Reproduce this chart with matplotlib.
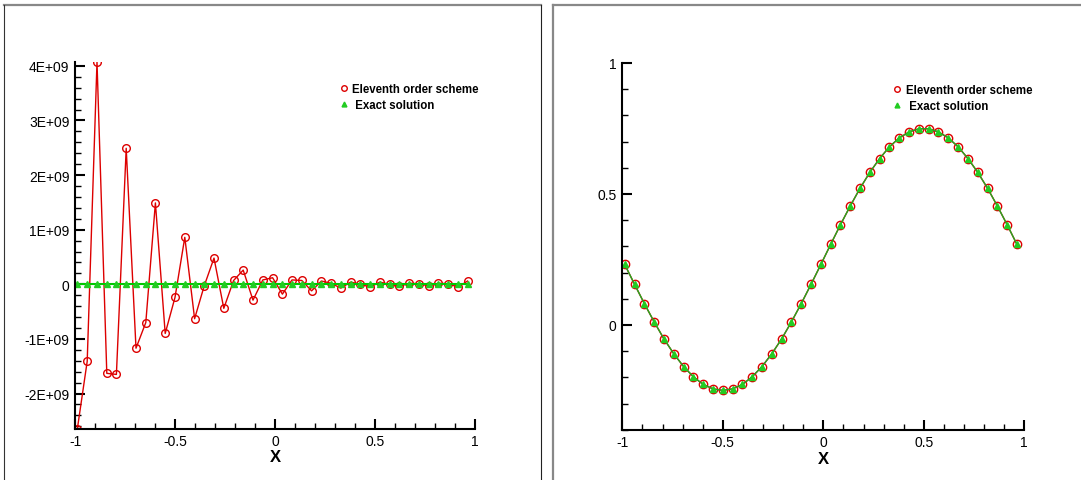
import matplotlib
matplotlib.use("Agg")
import matplotlib.pyplot as plt
from matplotlib.lines import Line2D
from matplotlib.ticker import MultipleLocator, FixedLocator, FuncFormatter

plt.rcParams['font.family'] = ['Liberation Sans', 'DejaVu Sans']

# ====== data ======
x_pts = [-0.988, -0.939, -0.890, -0.841, -0.793, -0.744, -0.695, -0.646, -0.598, -0.549,
         -0.500, -0.451, -0.402, -0.354, -0.305, -0.256, -0.207, -0.159, -0.110, -0.061,
         -0.012, 0.037, 0.085, 0.134, 0.183, 0.232, 0.280, 0.329, 0.378, 0.427,
         0.476, 0.524, 0.573, 0.622, 0.671, 0.720, 0.768, 0.817, 0.866, 0.915, 0.963]

# left panel: unstable scheme (values in units of 1E+09)
scheme_left = [-2.64, -1.41, 4.07, -1.63, -1.65, 2.49, -1.17, -0.70, 1.49, -0.90,
               -0.24, 0.86, -0.63, -0.03, 0.48, -0.44, 0.07, 0.26, -0.29, 0.08,
               0.12, -0.18, 0.08, 0.07, -0.12, 0.06, 0.02, -0.07, 0.04, 0.00,
               -0.05, 0.04, 0.00, -0.04, 0.02, 0.01, -0.03, 0.02, 0.01, -0.05, 0.06]

exact = [0.231, 0.155, 0.081, 0.011, -0.053, -0.110, -0.159, -0.198, -0.227, -0.244,
         -0.250, -0.244, -0.227, -0.198, -0.159, -0.110, -0.053, 0.011, 0.081, 0.155,
         0.231, 0.308, 0.382, 0.454, 0.522, 0.583, 0.635, 0.680, 0.714, 0.737,
         0.749, 0.749, 0.737, 0.714, 0.680, 0.635, 0.583, 0.522, 0.454, 0.382, 0.308]

# right panel: stable scheme sits on top of the exact solution
scheme_right = [0.231, 0.155, 0.081, 0.011, -0.053, -0.110, -0.159, -0.198, -0.227, -0.244,
                -0.250, -0.244, -0.227, -0.198, -0.159, -0.110, -0.053, 0.011, 0.081, 0.155,
                0.231, 0.308, 0.382, 0.454, 0.522, 0.583, 0.635, 0.680, 0.714, 0.737,
                0.749, 0.749, 0.737, 0.714, 0.680, 0.635, 0.583, 0.522, 0.454, 0.382, 0.308]

labels = ["Eleventh order scheme", " Exact solution"]

RED = "#dd0000"
GREEN = "#22cc22"
GREEN_LINE = "#00c800"

W, H = 1081, 481
fig = plt.figure(figsize=(W / 100, H / 100), dpi=100)


def frame(x0, x1, side_color, side_lw):
    # panel frame lines, like the plotting tool draws round each frame
    fig.add_artist(Line2D([x0 / W, x1 / W], [1 - 6 / H, 1 - 6 / H], color="#888888", lw=1.6))
    fig.add_artist(Line2D([x0 / W, x0 / W], [0, 1 - 6 / H], color=side_color, lw=side_lw))


frame(4, 541, "#333333", 0.8)
fig.add_artist(Line2D([541 / W, 541 / W], [0, 1 - 6 / H], color="#222222", lw=0.8))
frame(553, 1081, "#888888", 1.6)


def style_axes(ax):
    for s in ("top", "right"):
        ax.spines[s].set_visible(False)
    for s in ("left", "bottom"):
        ax.spines[s].set_linewidth(1.5)
    ax.tick_params(which="major", direction="in", length=7, width=1.5, labelsize=10, pad=4)
    ax.tick_params(which="minor", direction="in", length=4, width=1.0)
    ax.set_xlim(-1, 1)
    ax.xaxis.set_major_locator(MultipleLocator(0.5))
    ax.xaxis.set_minor_locator(MultipleLocator(0.1))
    ax.xaxis.set_major_formatter(FuncFormatter(lambda v, p: f"{v:g}"))
    ax.set_xlabel("X", fontsize=12, fontweight="bold", labelpad=1)


def add_legend(ax, anchor):
    handles = [
        Line2D([], [], ls="none", marker="o", ms=4, mfc="none", mec=RED, mew=1.0),
        Line2D([], [], ls="none", marker="^", ms=3.5, mfc=GREEN, mec=GREEN),
    ]
    ax.legend(handles, labels, loc="upper left", bbox_to_anchor=anchor, frameon=False,
              handlelength=0.7, handletextpad=0.4, labelspacing=0.3,
              prop={"weight": "bold", "size": 8.3}, borderaxespad=0)


# ====== left panel ======
ax1 = fig.add_axes([75 / W, 1 - 429.5 / H, 400 / W, 366.5 / H])
style_axes(ax1)
ax1.plot(x_pts, [v * 1e9 for v in scheme_left], color=RED, lw=1.0,
         marker="o", ms=5.5, mfc="none", mec=RED, mew=1.0)
ax1.plot(x_pts, exact, color=GREEN_LINE, lw=1.5,
         marker="^", ms=4.2, mfc=GREEN, mec=GREEN)
ax1.set_ylim(-2.64e9, 4.07e9)
ax1.yaxis.set_major_locator(FixedLocator([-2e9, -1e9, 0, 1e9, 2e9, 3e9, 4e9]))
ax1.yaxis.set_minor_locator(MultipleLocator(0.2e9))
ax1.yaxis.set_major_formatter(FuncFormatter(
    lambda v, p: "0" if abs(v) < 1 else f"{v / 1e9:.0f}E+09"))
add_legend(ax1, (0.65, 0.955))

# ====== right panel ======
ax2 = fig.add_axes([622.3 / W, 1 - 430.7 / H, 402 / W, 366.7 / H])
style_axes(ax2)
ax2.plot(x_pts, scheme_right, color=RED, lw=1.0,
         marker="o", ms=6, mfc="none", mec=RED, mew=1.0)
ax2.plot(x_pts, exact, color="#22aa22", lw=1.0,
         marker="^", ms=4.5, mfc=GREEN, mec=GREEN)
ax2.set_ylim(-0.4, 1.0)
ax2.yaxis.set_major_locator(MultipleLocator(0.5))
ax2.yaxis.set_minor_locator(MultipleLocator(0.1))
ax2.yaxis.set_major_formatter(FuncFormatter(lambda v, p: f"{v:g}"))
add_legend(ax2, (0.662, 0.955))

fig.savefig("out.png", dpi=100)
